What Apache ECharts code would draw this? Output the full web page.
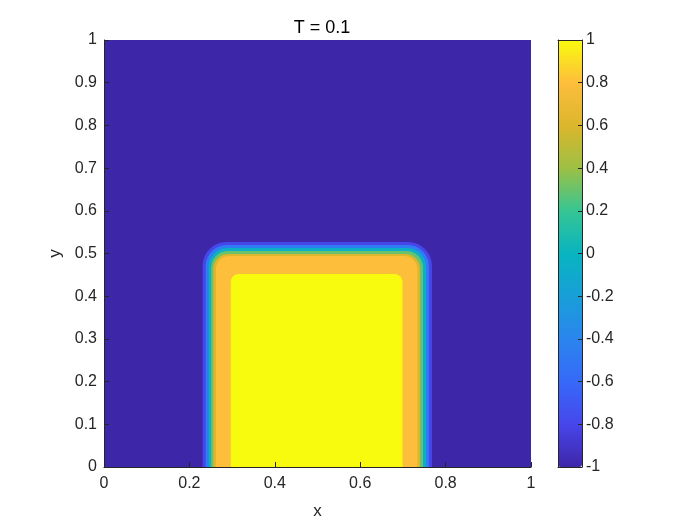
<!DOCTYPE html>
<html>
<head>
<meta charset="utf-8">
<script src="https://cdn.jsdelivr.net/npm/echarts@6.0.0/dist/echarts.min.js"></script>
<style>
  html, body { margin: 0; padding: 0; background: #fff; }
  #chart { width: 700px; height: 525px; }
</style>
</head>
<body>
<div id="chart"></div>
<script>
// contour bands of the field, outermost first
const bandValue  = [-1, -0.8, -0.45, -0.05, 0.3, 0.6, 0.8, 1];
const bandLeft   = [0, 0.231, 0.238, 0.245, 0.251, 0.256, 0.262, 0.297];
const bandRight  = [1, 0.768, 0.761, 0.754, 0.747, 0.740, 0.734, 0.699];
const bandTop    = [1, 0.527, 0.520, 0.513, 0.506, 0.499, 0.494, 0.452];
const bandRadius = [0, 0.056, 0.050, 0.044, 0.039, 0.035, 0.031, 0.019];

const xTicks = [0, 0.2, 0.4, 0.6, 0.8, 1];
const yTicks = [0, 0.1, 0.2, 0.3, 0.4, 0.5, 0.6, 0.7, 0.8, 0.9, 1];
const cbarTicks = [-1, -0.8, -0.6, -0.4, -0.2, 0, 0.2, 0.4, 0.6, 0.8, 1];

// parula, sampled every 0.1 of the range
const parula = ['#3E26A8', '#4746EB', '#3669F8', '#2B85EE', '#189FD8', '#08B4BF',
  '#36C594', '#9DC044', '#DCB62C', '#FDBE3C', '#F9FB0E'];

const FONT = "'Liberation Sans', Arial, sans-serif";
const INK = '#262626';

const bands = bandValue.map((v, i) => [v, bandLeft[i], bandRight[i], bandTop[i], bandRadius[i]]);

const chart = echarts.init(document.getElementById('chart'));

const labelStyle = { color: INK, fontSize: 16, fontFamily: FONT };
const lineOnly = {
  axisLine: { show: true, onZero: false, lineStyle: { color: INK } },
  axisTick: { show: false }, axisLabel: { show: false }, splitLine: { show: false }
};

const option = {
  animation: false,
  title: {
    text: 'T = 0.1',
    left: 317, top: 14, textAlign: 'center',
    textStyle: { fontSize: 18, fontWeight: 'normal', color: '#000', fontFamily: FONT }
  },
  grid: [
    { left: 104, top: 40, width: 427, height: 427 },
    { left: 558, top: 40, width: 24, height: 427 }
  ],
  xAxis: [
    {
      type: 'value', gridIndex: 0, min: 0, max: 1, interval: 0.2, z: 10,
      name: 'x', nameLocation: 'middle', nameGap: 36,
      nameTextStyle: { fontSize: 17, color: INK, fontFamily: FONT },
      axisLine: { onZero: false, lineStyle: { color: INK } },
      axisTick: { inside: true, length: 5, lineStyle: { color: INK } },
      axisLabel: Object.assign({ margin: 9 }, labelStyle),
      splitLine: { show: false }
    },
    Object.assign({ type: 'value', gridIndex: 1, min: 0, max: 1, position: 'bottom', z: 10 }, lineOnly),
    Object.assign({ type: 'value', gridIndex: 1, min: 0, max: 1, position: 'top', z: 10 }, lineOnly)
  ],
  yAxis: [
    {
      type: 'value', gridIndex: 0, min: 0, max: 1, interval: 0.1, z: 10,
      name: 'y', nameLocation: 'middle', nameGap: 40, nameRotate: 90,
      nameTextStyle: { fontSize: 17, color: INK, fontFamily: FONT },
      axisLine: { onZero: false, lineStyle: { color: INK } },
      axisTick: { inside: true, length: 5, lineStyle: { color: INK } },
      axisLabel: Object.assign({ margin: 7 }, labelStyle),
      splitLine: { show: false }
    },
    {
      type: 'value', gridIndex: 1, min: -1, max: 1, interval: 0.2, position: 'right', z: 10,
      axisLine: { show: true, onZero: false, lineStyle: { color: INK } },
      axisTick: { inside: true, length: 4, lineStyle: { color: INK } },
      axisLabel: Object.assign({ margin: 4 }, labelStyle),
      splitLine: { show: false }
    },
    Object.assign({ type: 'value', gridIndex: 1, min: -1, max: 1, position: 'left', z: 10 }, lineOnly)
  ],
  visualMap: {
    type: 'continuous',
    min: -1, max: 1,
    dimension: 0,
    seriesIndex: 0,
    calculable: false,
    hoverLink: false,
    text: ['', ''],
    showLabel: false,
    left: 558, top: 40,
    padding: 0,
    z: 1,
    itemWidth: 24, itemHeight: 427,
    inRange: { color: parula }
  },
  series: [{
    type: 'custom',
    xAxisIndex: 0, yAxisIndex: 0,
    clip: true,
    encode: { x: [1, 2], y: 3 },
    renderItem: function (params, api) {
      const tl = api.coord([api.value(1), api.value(3)]);
      const br = api.coord([api.value(2), 0]);
      const r = api.size([api.value(4), 0])[0];
      return {
        type: 'rect',
        shape: { x: tl[0], y: tl[1], width: br[0] - tl[0], height: br[1] - tl[1], r: [r, r, 0, 0] },
        style: { fill: api.visual('color') }
      };
    },
    data: bands
  }]
};

chart.setOption(option);
</script>
</body>
</html>
